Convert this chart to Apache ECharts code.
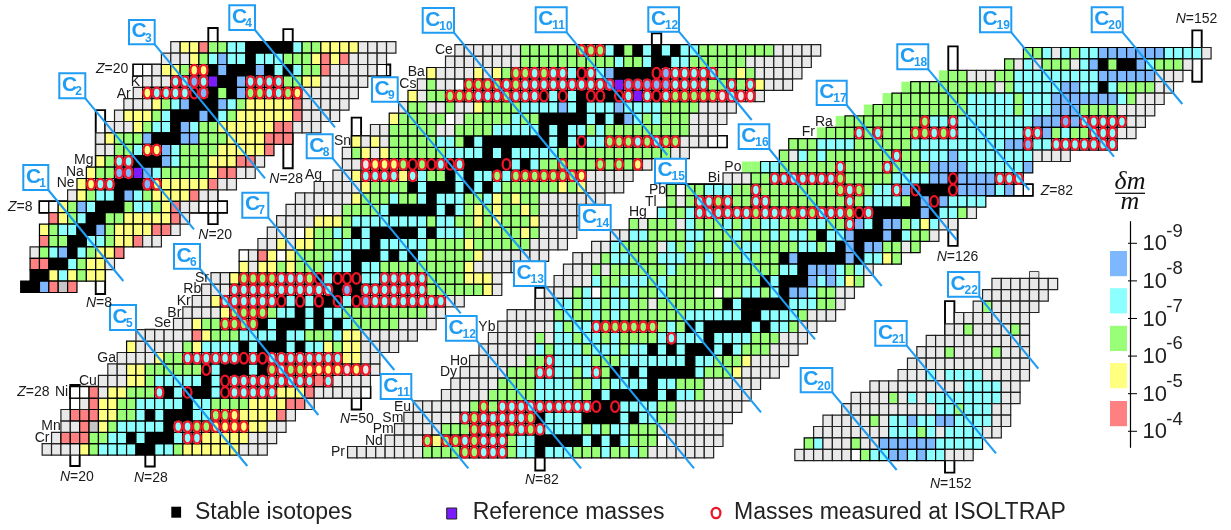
<!DOCTYPE html>
<html><head><meta charset="utf-8">
<style>html,body{margin:0;padding:0;background:#fff}#c{width:1231px;height:530px}</style>
<script src="https://cdn.jsdelivr.net/npm/echarts@6/dist/echarts.min.js"></script>
</head><body><div id="c"></div>
<script>
// Cell codes: run-length tokens, letter + count. Upper case = measured at ISOLTRAP (ring).
// g none, w white, y 1e-5..1e-6, r 1e-4..1e-5, n 1e-6..1e-7, c 1e-7..1e-8, b 1e-8..1e-9, k stable, p reference, h dark grey, l green (no frame)
const panel1Rows = [ // [Z, first N, cells]
[22,16,"g y2 r n2 c2 k5 c n2 y4 g4"],
[21,15,"g3 y n c b c2 k c3 n3 y r y r g4"],
[20,12,"w2 g y2 n Y2 k b k3 b k c k c n2 r g5 w"],
[19,13,"g3 C2 B C p k2 b C4 n2 y2 g5"],
[18,12,"g Y C4 K B k n k b N2 C2 N Y g6"],
[17,11,"g3 y n c b k3 b c n y5 r g5"],
[16,10,"g y3 n c k3 b k c n y6 r g4"],
[15,9,"g3 y n c2 k b c n2 y6 r2 g3"],
[14,8,"g y n3 b k3 b2 n3 y4 r3"],
[13,8,"g2 n2 c Y2 b c n4 y5 r"],
[12,8,"y n C2 k3 b c n3 y3 r2 g"],
[11,7,"y n2 B2 p b c n5 y r2 g2"],
[10,6,"y Y C2 k3 B Y y5 r g2"],
[9,5,"g y n c2 k b c n y4 r g2"],
[8,2,"w2 y n b c k3 n c2 n y r g2 w3"],
[7,3,"r y n c k2 n2 y5 r g"],
[6,2,"y n c2 k2 b n y4 r2 g"],
[5,2,"r n2 k2 c2 n y2 r g2"],
[4,1,"g n c b k c n y2 r"],
[3,1,"r2 k2 c n y2 g"],
[2,1,"k2 y c y n y2"],
[1,0,"k2 b r h r"]];
const panel1Boxes = [[8,9,0.87,17],[20,21,7,24.2],[28,29,11.9,24.1],[2,22,8,9],[12,39.4,20,21]];

const panel2Rows = [
[23,17,"g4 y n c4 k2 c2 n y6 g3"],
[24,18,"g r3 n2 c2 k c k3 c C2 y5 g3"],
[25,19,"g2 r h y n c5 k C2 N2 Y4 y2 g2"],
[26,19,"g r3 y2 n2 c k c k3 c2 N2 Y y4 r g"],
[27,20,"w g r y2 n2 c5 k c2 n4 y4 r2 g"],
[28,20,"w2 r g y2 n3 C k c K k2 c K C5 y3 r g5 w"],
[29,23,"g3 y2 n c5 k c K C9 r C g4"],
[30,24,"g2 y2 n6 K c k3 c k N C N2 Y4 G Y G g"],
[31,25,"g4 y n2 C6 K C K C8 y2 g2"],
[32,26,"y g5 n y c4 k c k3 c k c2 y n y2 g4"],
[33,27,"g6 r y n3 c4 k c2 n3 c y2 g6"],
[34,31,"g2 y n2 N4 k c k3 c k c k c n5 g4"],
[35,32,"g4 y N4 n c2 k c k c2 n9 g2"],
[36,33,"g2 y C6 K c K c K k K c K B C8 g2"],
[37,34,"g3 C11 k B k C7 n6 y g"],
[38,35,"g2 y N4 C3 N K c K3 c2 C5 n4 y3 g"],
[39,38,"y g y2 n y n3 c3 k c2 n9 y g7"],
[40,38,"w g r y w y n4 c2 k3 c k c k c n5 y g7"],
[41,40,"g2 y g y2 n3 c3 k c5 n4 y n6 g4"],
[42,41,"g3 w y n2 c n k c k5 c k c3 n6 y n g4"],
[43,42,"g4 y3 n c8 n c2 n2 y n y n3 y g5"],
[44,43,"g4 w g n4 c k5 c k c n y n y n2 y n g6"],
[45,44,"g6 y n3 c n2 c k c3 n2 c y n y n2 g7"],
[46,46,"g5 y n4 k c k3 c k c k c n6 y n y g4"],
[47,48,"g2 y C4 y C c n2 k c k c2 N c N7 Y g5"],
[48,49,"g2 G Y3 N K N K C K C k4 K c k c n2 N n3 N n N n Y g"],
[49,49,"g n y g y n6 c4 k c k c5 n12 g2"],
[50,50,"y g y g n5 c2 n k c k7 c k c K c2 N3 C N C N2 g3 w2"],
[51,52,"g2 n5 g2 n4 c5 k c k c2 n c n9 g3"],
[52,54,"y n5 w g n5 c n2 k5 c k c k b c n c n3 g4"],
[53,55,"g n2 g2 n g2 y n4 c4 b c k c3 b c4 n4 g4"],
[54,56,"y g n2 N3 C3 N C3 K c K c k K2 k K C p C K C N5 G C G2 g"],
[55,57,"g n g2 w N4 C N C9 B p B5 C4 n2 C n C y g3"],
[56,58,"y g4 y g y n N2 C N C2 c K C c b k4 K B C5 n2 y n g5"],
[57,60,"g8 n10 c n2 c k2 c2 n6 g7"],
[58,61,"g7 n6 N3 c k n k c k c k c2 n8 g5"]];
const panel2Boxes = [[20,21,22.04,29.15],[28,29,22,34],[50,51,27,52.6],[82,83,58,60],[20,52,28,29],[50,90,50,51]];

const panel3Rows = [
[94,134,"n2 c g c n c2 b7 c4 g"],
[93,132,"n g c g n3 g c b k n k2 b c n3 g"],
[92,125,"l n2 g3 n2 c9 b6 g3"],
[91,121,"l n9 g n c5 b2 c2 k c n4 g2"],
[90,119,"l n8 c5 n c3 b7 c n g3"],
[89,117,"l n10 c5 n c3 b3 n4 g4"],
[88,114,"l n8 N c2 C c8 b3 B b C5 g2"],
[87,112,"l n3 C n C n3 N2 C N C c7 C2 b n c n2 C3 g2"],
[86,109,"n3 c4 n6 c10 b2 B c2 C7"],
[85,108,"n g c n c n7 C n2 c3 b c8 g4"],
[84,104,"l2 c2 n6 C n4 C n4 b4 c6 b"],
[83,102,"g3 n2 C7 N n5 c4 b2 K b4 C3"],
[82,96,"n w n2 c3 n2 C n8 N C N n c2 C b K k3 K b4 c b w2"],
[81,96,"n g n C2 N C n2 C2 n8 C n c4 n k b K b c4"],
[80,95,"c n2 c C6 N C3 N C N C3 N K C k5 b k c2 n g"],
[79,92,"n g n3 g c n3 c n c n c2 n3 c2 n2 C b c k b2 n c y c g2"],
[78,90,"g2 c2 n4 c2 n3 c n3 c n c2 n k c2 b k3 b k c n2 g"],
[77,88,"g2 c n4 g c n c n3 c n c2 n4 c2 n c k b k b2 n2 g n"],
[76,86,"g3 n c2 n3 c3 n2 c n3 c n3 k b k5 b k c2 y n"],
[75,85,"g3 n g n6 c n11 c2 k b3 c n c g"],
[74,84,"g4 c n2 c3 n c n10 k c k3 b c b c y n"],
[73,83,"g3 n c w n c n c n2 c n5 w n2 c2 n c k b2 c n2 g2"],
[72,82,"g2 c2 n c2 n c2 n2 g n7 k c k5 c3 n2 g"],
[71,79,"g5 n c n2 c n c n7 c6 k2 c4 n g3"],
[70,78,"g6 c n c2 C N6 n c n k c k5 c k c2 n g2"],
[69,77,"g5 n g c2 n c2 n c n4 c C c3 k c4 n3 g3"],
[68,76,"g6 c n c3 n c3 n c2 k c k c k3 c k c n3 g3"],
[67,75,"g6 n2 C c4 n3 c7 k c2 n3 y g4"],
[66,74,"g5 n3 C2 c2 n c C n k c k c k5 c n3 y g4"],
[65,73,"g5 n4 c4 n2 c n c4 k c2 n3 g6"],
[64,72,"g5 n5 c5 n k c k5 c k c2 n g5"],
[63,69,"g6 n N n C10 K k K c4 n2 g7"],
[62,68,"g6 C N C5 N k c4 k4 c k c2 n2 g6"],
[61,67,"g5 n3 N C N C N C N C c4 n c n c2 n3 g7"],
[60,66,"g4 N y N2 C N C3 n c2 k5 c k c k c n3 w g6"],
[59,62,"g8 n4 N2 C3 n c2 k c3 n3 c n2 c n g7"]];
const panel3Boxes = [[96,135,82,83],[82,83,57.9,73.93],[126,127,77.6,95.1],[152,153,92,96.5]];

const panel4Rows = [
[110,157,"g7"],
[109,156,"g7"],
[108,155,"g n g5"],
[107,153,"g8"],
[106,152,"g2 n g4 n g"],
[105,150,"g11"],
[104,149,"g3 n g4 n g3"],
[103,148,"g13"],
[102,147,"g3 c g c4 g5"],
[101,144,"g10 c4 g2"],
[100,142,"g4 n g c g c8 g2"],
[99,141,"g10 c2 n c3 g2"],
[98,139,"g5 n g c2 b c2 b2 c4 g2"],
[97,138,"g8 c3 n c g c4 g2"],
[96,137,"n c g3 n g2 b6 c5"],
[95,136,"g6 w n c2 b2 c b c2 g3"]];
const panel4Boxes = [[152,153,93.95,109],[161,162,111,111.6,"g"]];

const palette = {g:'#e9e9e9',w:'#ffffff',y:'#ffff80',r:'#ff8080',n:'#99ff77',c:'#8cffff',b:'#7db8ff',k:'#000000',p:'#7b1cff',h:'#c6c6c6',l:'#99ff77'};
const ringColor = '#ee1528';

const colorBinCentres = [-8.46,-7.47,-6.47,-5.48,-4.47];
const colorBinColors = ['b','c','n','y','r'];
const colorTicks = [-9,-8,-7,-6,-5,-4];

const panels = [
 {rows:panel1Rows,boxes:panel1Boxes,x0:208.3,N0:20,y0:201.3,Z0:8,Nr:[0,42],Zr:[0,26],cw:9.38},
 {rows:panel2Rows,boxes:panel2Boxes,x0:70.3,N0:20,y0:386.7,Z0:28,Nr:[15,95],Zr:[20,62],cw:9.38},
 {rows:panel3Rows,boxes:panel3Boxes,x0:535.3,N0:82,y0:184.3,Z0:82,Nr:[60,156],Zr:[56,98],cw:9.386},
 {rows:panel4Rows,boxes:panel4Boxes,x0:945,N0:152,y0:449.3,Z0:95,Nr:[134,166],Zr:[92,113],cw:9.386}];
const rh = 11.4;

function expand(rows){
  const cells=[],rings=[];
  rows.forEach(([z,n,str])=>{
    let N=n;
    str.trim().split(/\s+/).forEach(t=>{
      const ch=t[0], cnt=t.length>1?parseInt(t.slice(1)):1;
      for(let i=0;i<cnt;i++){
        const low=ch.toLowerCase();
        cells.push({value:[N,z,0],code:low});
        if(ch!==low) rings.push([N,z]);
        N++;
      }
    });
  });
  return {cells,rings};
}

const grids=[],xAxes=[],yAxes=[],series=[];
panels.forEach((p,i)=>{
  const left=p.x0+(p.Nr[0]-p.N0)*p.cw, width=(p.Nr[1]-p.Nr[0])*p.cw;
  const top=p.y0-(p.Zr[1]-1-p.Z0)*rh, height=(p.Zr[1]-p.Zr[0])*rh;
  grids.push({left,top,width,height,containLabel:false,show:false});
  xAxes.push({type:'value',gridIndex:i,min:p.Nr[0],max:p.Nr[1],show:false});
  yAxes.push({type:'value',gridIndex:i,min:p.Zr[0],max:p.Zr[1],show:false});
  const {cells,rings}=expand(p.rows);
  series.push({type:'custom',xAxisIndex:i,yAxisIndex:i,z:2,silent:true,progressive:0,clip:false,
    data:p.boxes.map(b=>({value:[b[0],b[2],b[1],b[3]],code:b[4]||'w'})),
    encode:{x:[0,2],y:[1,3]},
    renderItem:(params,api)=>{
      const a=api.coord([api.value(0),api.value(3)]),c=api.coord([api.value(2),api.value(1)]);
      const code=p.boxes[params.dataIndex][4];
      return {type:'rect',shape:{x:a[0],y:a[1],width:c[0]-a[0],height:c[1]-a[1]},
        style:{fill:code?palette[code]:'#fff',stroke:code?'#444':'#000',lineWidth:code?1:1.9}};
    }});
  series.push({type:'custom',xAxisIndex:i,yAxisIndex:i,z:3,silent:true,progressive:0,clip:false,
    data:cells.map(c=>c.value),encode:{x:0,y:1},
    renderItem:(params,api)=>{
      const N=api.value(0),Z=api.value(1),code=cells[params.dataIndex].code;
      const a=api.coord([N,Z+1]),c=api.coord([N+1,Z]);
      const framed = code!=='l';
      return {type:'rect',shape:{x:a[0],y:a[1],width:c[0]-a[0],height:c[1]-a[1]},
        style:{fill:palette[code],stroke:framed?(code==='g'?'#222':'#000'):null,lineWidth:framed?1.2:0}};
    }});
  series.push({type:'custom',xAxisIndex:i,yAxisIndex:i,z:4,silent:true,progressive:0,clip:false,
    data:rings,encode:{x:0,y:1},
    renderItem:(params,api)=>{
      const N=api.value(0),Z=api.value(1);
      const a=api.coord([N+0.5,Z+0.5]);
      return {type:'ellipse',shape:{cx:a[0],cy:a[1],rx:3.9,ry:5.3},
        style:{fill:'none',stroke:ringColor,lineWidth:2.3}};
    }});
});

// colour scale: exponent axis
const gi=panels.length;
grids.push({left:1110,top:221.7,width:20,height:225.6,show:false});
xAxes.push({type:'value',gridIndex:gi,min:0,max:20,show:false});
yAxes.push({type:'value',gridIndex:gi,position:'right',inverse:true,min:-9.574,max:-3.574,
  axisLine:{show:true,onZero:false,lineStyle:{color:'#000',width:1.2}},axisTick:{show:false},axisLabel:{show:false},splitLine:{show:false}});
series.push({type:'custom',xAxisIndex:gi,yAxisIndex:gi,z:3,silent:true,clip:false,
  data:colorBinCentres.map((e,i)=>[e,i]),encode:{y:0},
  renderItem:(params,api)=>{
    const e=api.value(0),a=api.coord([0,e-0.335]),c=api.coord([17,e+0.335]);
    return {type:'rect',shape:{x:a[0],y:a[1],width:c[0]-a[0],height:c[1]-a[1]},
      style:{fill:palette[colorBinColors[api.value(1)]]}};
  }});
series.push({type:'custom',xAxisIndex:gi,yAxisIndex:gi,z:3,silent:true,clip:false,
  data:colorTicks.map(e=>[e]),encode:{y:0},
  renderItem:(params,api)=>{
    const e=api.value(0),p=api.coord([20,e]);
    return {type:'group',children:[
      {type:'line',shape:{x1:p[0]-2,y1:p[1],x2:p[0]+7,y2:p[1]},style:{stroke:'#000',lineWidth:1}},
      {type:'text',style:{x:p[0]+12.5,y:p[1]+1,text:'10',align:'left',verticalAlign:'middle',font:'22px "Liberation Sans"',fill:'#222'}},
      {type:'text',style:{x:p[0]+36.3,y:p[1]-11.7,text:String(e),align:'left',verticalAlign:'middle',font:'18.5px "Liberation Sans"',fill:'#222'}}
    ]};
  }});

// call-outs: [index, box x0, y0, x1, y1, line end x, y]
const callouts=[
['1',23.3,165,48.3,190,123.3,281],['2',59.3,73.3,85.3,98.3,194,229.3],['3',129,20,154.7,44.3,265,178.3],['4',229.3,5.3,255,30,335,127.3],
['5',110,305,136,330,247.3,466],['6',174,244,200,268.7,318.3,415],['7',242.3,192.7,268.3,217.7,394.3,370],['8',306.7,134.3,332.7,158.3,460.7,313.3],
['9',372,77.3,397.7,101.7,530,260],['10',422.7,8,454,32.7,596,205],['11',535.7,7.3,566.7,32.3,667.3,155],['12',648.3,7.3,679,31.7,751.7,120],
['11',380.7,374,411.3,399,468.3,468.3],['12',446,316,476.7,340.7,581,468.3],['13',514,261.3,545.3,286,694,468.3],['14',579.3,205,610.7,230,761,412.3],
['15',655,158.7,686,183.3,815,339.3],['16',738.7,124.3,769.3,149,881.7,286],['17',816.7,80.7,846.7,105,956.7,240],['18',897.3,44.3,928.3,69.3,1029.3,190],
['19',980,7.3,1011.3,32.3,1114,156.7],['20',1091.7,7.3,1122.7,32.3,1182.3,104],['21',875.3,321,906.7,345.7,996,453.3],['20',800.7,368,832.3,392.3,896.7,470],['22',948,272,979.3,296.7,1038.3,368.7]];
const blue='#1f9cf3';
const elementLabels=[['Ne',56.7,183.3],['Na',66,171.7],['Mg',74,160],['Ar',116.7,94],['K',130.7,81.7],['Sn',334,140.7],['Ag',305,175],
['Sr',195,277.7],['Rb',183.3,289.3],['Kr',176.7,301],['Br',167.3,312.7],['Se',154,323.3],['Ga',97.3,358.3],['Cu',79,380.7],['Ni',55,392.3],['Mn',41.3,426],['Cr',34.7,438.3],
['Ce',435,50],['Ba',407.7,72.3],['Cs',399.3,84],['Yb',478.3,326.7],['Ho',450,361],['Dy',440,372],['Eu',394,406.7],['Sm',382.3,418.3],['Pm',372.7,429.3],['Nd',365,440.7],['Pr',331,451.7],
['Po',724.3,166.7],['Bi',707.7,178.3],['Pb',649,190],['Tl',645,201.7],['Hg',629,212.3],['Fr',801.7,132.3],['Ra',815,121.7]];
const magicLabels=[['Z','=8',8,207],['Z','=20',96,69.3],['Z','=28',17.3,392.3],['Z','=82',1040.7,191],
['N','=8',86,303.3],['N','=20',198.3,234.7],['N','=28',269.3,179.3],['N','=20',60,476.7],['N','=28',134,477.7],['N','=50',340,419],['N','=82',525,480],['N','=126',936.7,257.3],['N','=152',1175.7,19.3],['N','=152',930,484]];

const g=[];
callouts.forEach(c=>{
  const [t,x0,y0,x1,y1,ex,ey]=c;
  g.push({type:'line',z:100,silent:true,shape:{x1,y1,x2:ex,y2:ey},style:{stroke:blue,lineWidth:2.1}});
  g.push({type:'rect',z:101,silent:true,shape:{x:x0,y:y0,width:x1-x0,height:y1-y0},style:{fill:'#fff',stroke:blue,lineWidth:2}});
  const wide=t.length>1;
  g.push({type:'text',z:102,silent:true,style:{x:x0+(wide?2.6:2.6),y:(y0+y1)/2-0.5,text:'C',align:'left',verticalAlign:'middle',font:'bold 21px "Liberation Sans"',fill:blue}});
  g.push({type:'text',z:102,silent:true,style:{x:x0+(wide?16.6:16),y:y0+18.4,text:t,align:'left',verticalAlign:'middle',font:'bold 12px "Liberation Sans"',fill:blue}});
});
elementLabels.forEach(([t,x,y])=>g.push({type:'text',z:102,silent:true,style:{x,y,text:t,align:'left',verticalAlign:'middle',font:'14px "Liberation Sans"',fill:'#1a1a1a'}}));
magicLabels.forEach(([a,b,x,y])=>g.push({type:'text',z:102,silent:true,style:{x,y,text:'{i|'+a+'}{t|'+b+'}',align:'left',verticalAlign:'middle',
  rich:{i:{fontStyle:'italic',fontFamily:'Liberation Sans',fontSize:14,fill:'#1a1a1a'},t:{fontFamily:'Liberation Sans',fontSize:14,fill:'#1a1a1a'}}}}));
// legend
g.push({type:'rect',z:102,silent:true,shape:{x:171.3,y:506.7,width:9.8,height:11},style:{fill:'#000'}});
g.push({type:'text',z:102,silent:true,style:{x:195,y:513,text:'Stable isotopes',align:'left',verticalAlign:'middle',font:'23px "Liberation Sans"',fill:'#222'}});
g.push({type:'rect',z:102,silent:true,shape:{x:446.7,y:508,width:10,height:11},style:{fill:palette.p,stroke:'#222',lineWidth:1}});
g.push({type:'text',z:102,silent:true,style:{x:472.7,y:513,text:'Reference masses',align:'left',verticalAlign:'middle',font:'23px "Liberation Sans"',fill:'#222'}});
g.push({type:'ellipse',z:102,silent:true,shape:{cx:716,cy:513,rx:4.4,ry:5.2},style:{fill:'none',stroke:ringColor,lineWidth:2.3}});
g.push({type:'text',z:102,silent:true,style:{x:734,y:513,text:'Masses measured at ISOLTRAP',align:'left',verticalAlign:'middle',font:'23px "Liberation Sans"',fill:'#222'}});
// delta m / m
g.push({type:'text',z:102,silent:true,style:{x:1130,y:182,text:'\u03b4m',align:'center',verticalAlign:'middle',font:'italic 26px "Liberation Serif"',fill:'#111'}});
g.push({type:'line',z:102,silent:true,shape:{x1:1115,y1:193.3,x2:1145,y2:193.3},style:{stroke:'#111',lineWidth:1.3}});
g.push({type:'text',z:102,silent:true,style:{x:1130,y:202,text:'m',align:'center',verticalAlign:'middle',font:'italic 26px "Liberation Serif"',fill:'#111'}});

const chart=echarts.init(document.getElementById('c'),null,{renderer:'canvas'});
chart.setOption({animation:false,backgroundColor:'#fff',grid:grids,xAxis:xAxes,yAxis:yAxes,series,graphic:{elements:g}});
</script></body></html>
